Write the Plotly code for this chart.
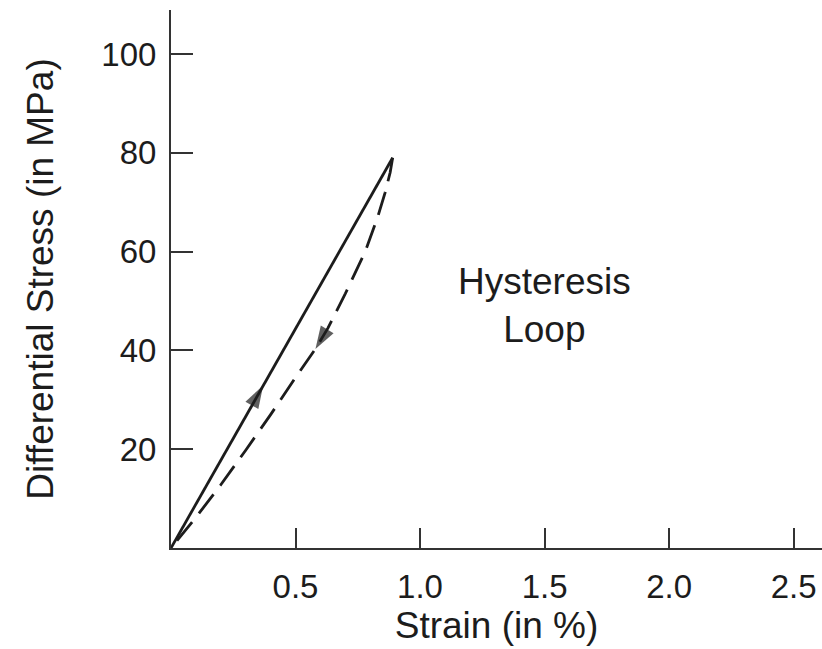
import plotly.graph_objects as go

# Loading path (solid) and unloading path (dashed), strain in %, stress in MPa
strain_load = [0.0, 0.37, 0.89]
stress_load = [0.0, 32.9, 79.0]

strain_unload = [0.89, 0.88, 0.86, 0.83, 0.78, 0.70, 0.63, 0.58, 0.50, 0.40, 0.30, 0.20, 0.10, 0.0]
stress_unload = [79.0, 76.0, 72.0, 67.0, 60.0, 51.5, 44.5, 40.3, 34.5, 27.0, 19.8, 12.8, 6.2, 0.0]

# index of the arrowhead on each path
load_arrow_idx = 1
unload_arrow_idx = 7

x_ticks = [0.5, 1.0, 1.5, 2.0, 2.5]
x_tick_labels = ["0.5", "1.0", "1.5", "2.0", "2.5"]
y_ticks = [20, 40, 60, 80, 100]
y_tick_labels = ["20", "40", "60", "80", "100"]

label_text = "Hysteresis<br>Loop"
x_title = "Strain (in %)"
y_title = "Differential Stress (in MPa)"

INK = "#1c1c1c"
FONT = "Liberation Sans, Arial, Helvetica, sans-serif"

fig = go.Figure()

fig.add_trace(go.Scatter(
    x=strain_load, y=stress_load, mode="lines",
    line=dict(color=INK, width=2.8), hoverinfo="skip", showlegend=False))

fig.add_trace(go.Scatter(
    x=strain_unload, y=stress_unload, mode="lines",
    line=dict(color=INK, width=2.8, dash="24px,11px"), hoverinfo="skip", showlegend=False))

# arrowheads, oriented along the path by the previous point
fig.add_trace(go.Scatter(
    x=strain_load[load_arrow_idx - 1:load_arrow_idx + 1],
    y=stress_load[load_arrow_idx - 1:load_arrow_idx + 1],
    mode="markers",
    marker=dict(symbol="arrow", size=[0, 24], color=INK, angleref="previous",
                line=dict(width=0)),
    hoverinfo="skip", showlegend=False))

fig.add_trace(go.Scatter(
    x=strain_unload[unload_arrow_idx - 1:unload_arrow_idx + 1],
    y=stress_unload[unload_arrow_idx - 1:unload_arrow_idx + 1],
    mode="markers",
    marker=dict(symbol="arrow", size=[0, 24], color=INK, angleref="previous",
                line=dict(width=0)),
    hoverinfo="skip", showlegend=False))

fig.add_annotation(
    x=1.5, y=49, xref="x", yref="y", text=label_text, showarrow=False,
    align="center", font=dict(family=FONT, size=37, color=INK))

axis_common = dict(
    showgrid=False, zeroline=False, showline=True, linecolor="#333333", linewidth=2,
    ticks="inside", tickwidth=2, tickcolor="#333333",
    tickfont=dict(family=FONT, size=33, color=INK),
)

fig.update_xaxes(
    range=[0, 2.614], tickvals=x_ticks, ticktext=x_tick_labels, ticklen=20,
    ticklabelstandoff=8,
    title=dict(text=x_title, font=dict(family=FONT, size=37, color=INK), standoff=4),
    **axis_common)
fig.update_yaxes(
    range=[0, 108.9], tickvals=y_ticks, ticktext=y_tick_labels, ticklen=22,
    ticklabelstandoff=6,
    title=dict(text=y_title, font=dict(family=FONT, size=37, color=INK), standoff=36),
    **axis_common)

fig.update_layout(
    width=822, height=649,
    margin=dict(l=171, r=0, t=10, b=101, autoexpand=False),
    paper_bgcolor="white", plot_bgcolor="white",
    font=dict(family=FONT, color=INK),
)

fig.write_html("out.html")
